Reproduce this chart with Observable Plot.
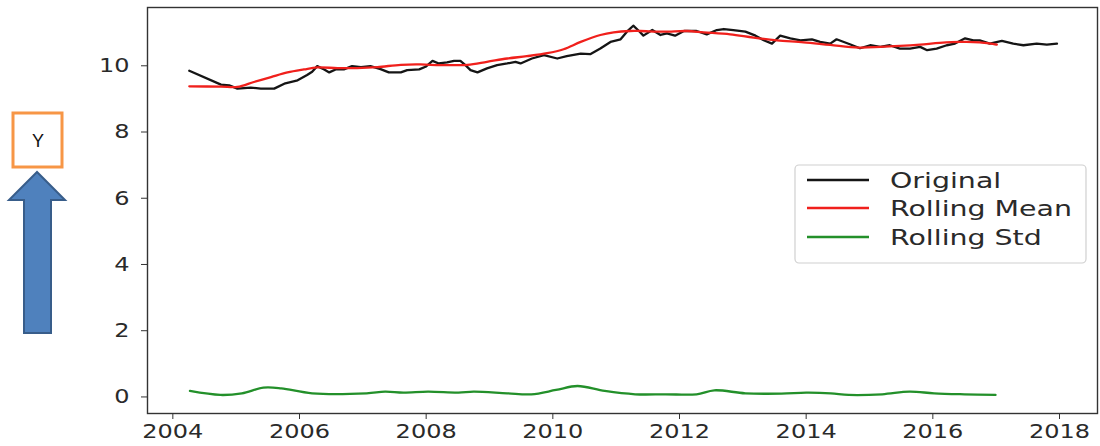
<!DOCTYPE html>
<html>
<head>
<meta charset="utf-8">
<script src="https://cdn.jsdelivr.net/npm/d3@7"></script>
<script src="https://cdn.jsdelivr.net/npm/@observablehq/plot@0.6"></script>
<style>
  html, body { margin: 0; padding: 0; background: #fff; }
  #wrap { position: relative; width: 1100px; height: 446px; }
  #overlay { position: absolute; left: 0; top: 0; pointer-events: none; }
</style>
</head>
<body>
<div id="wrap"></div>
<script>
// ---- data ----
const originalX = [2004.26,2004.76,2004.89,2005.02,2005.23,2005.39,2005.60,2005.76,2005.97,2006.12,2006.20,2006.28,2006.39,2006.47,2006.57,2006.70,2006.83,2006.97,2007.12,2007.28,2007.41,2007.60,2007.70,2007.89,2007.99,2008.10,2008.20,2008.33,2008.44,2008.54,2008.62,2008.70,2008.81,2008.96,2009.12,2009.28,2009.41,2009.49,2009.67,2009.86,2010.07,2010.22,2010.44,2010.59,2010.75,2010.91,2011.07,2011.17,2011.27,2011.36,2011.43,2011.57,2011.70,2011.80,2011.93,2012.07,2012.27,2012.43,2012.59,2012.70,2012.85,2013.04,2013.20,2013.33,2013.46,2013.59,2013.75,2013.91,2014.09,2014.22,2014.38,2014.48,2014.69,2014.85,2015.01,2015.17,2015.32,2015.48,2015.64,2015.80,2015.91,2016.06,2016.22,2016.35,2016.51,2016.64,2016.74,2016.90,2017.09,2017.27,2017.43,2017.64,2017.80,2017.96];
const originalY = [9.85,9.43,9.41,9.31,9.34,9.31,9.31,9.46,9.56,9.72,9.82,9.99,9.89,9.80,9.89,9.89,9.99,9.96,9.99,9.90,9.80,9.80,9.87,9.89,9.97,10.15,10.07,10.10,10.15,10.15,10.02,9.87,9.80,9.92,10.02,10.07,10.12,10.07,10.22,10.32,10.22,10.29,10.37,10.35,10.52,10.72,10.80,11.03,11.21,11.05,10.91,11.08,10.93,10.98,10.91,11.05,11.05,10.95,11.08,11.11,11.08,11.03,10.91,10.77,10.67,10.91,10.83,10.77,10.80,10.72,10.67,10.80,10.65,10.53,10.62,10.57,10.62,10.52,10.52,10.57,10.47,10.52,10.62,10.67,10.83,10.77,10.77,10.67,10.75,10.67,10.62,10.67,10.64,10.67];

const meanX = [2004.26,2004.76,2005.02,2005.28,2005.55,2005.81,2006.07,2006.28,2006.60,2006.91,2007.23,2007.60,2007.91,2008.23,2008.65,2008.96,2009.28,2009.59,2009.91,2010.17,2010.44,2010.75,2010.96,2011.22,2011.38,2011.75,2012.12,2012.38,2012.80,2013.17,2013.54,2013.96,2014.38,2014.83,2015.17,2015.48,2015.80,2016.11,2016.43,2016.74,2017.01];
const meanY = [9.38,9.37,9.36,9.51,9.66,9.80,9.89,9.95,9.93,9.93,9.96,10.03,10.04,10.02,10.03,10.12,10.22,10.29,10.38,10.50,10.72,10.93,11.01,11.05,11.05,11.03,11.05,11.01,10.95,10.85,10.77,10.71,10.63,10.55,10.57,10.60,10.64,10.69,10.72,10.71,10.64];

const stdX = [2004.27,2004.75,2005.09,2005.43,2005.71,2006.20,2007.06,2007.35,2007.64,2008.03,2008.51,2008.75,2009.28,2009.66,2010.05,2010.39,2010.82,2011.30,2011.78,2012.27,2012.55,2013.04,2013.61,2014.00,2014.39,2014.67,2015.20,2015.63,2016.02,2016.50,2016.99];
const stdY = [0.18,0.06,0.11,0.28,0.26,0.11,0.11,0.16,0.13,0.16,0.13,0.16,0.11,0.08,0.21,0.33,0.18,0.08,0.08,0.08,0.20,0.11,0.10,0.13,0.11,0.06,0.08,0.16,0.11,0.08,0.06];

const xTicks = [2004,2006,2008,2010,2012,2014,2016,2018];
const yTicks = [0,2,4,6,8,10];
const seriesNames = ["Original","Rolling Mean","Rolling Std"];
const seriesColors = ["#151515","#f0201c","#23902a"];
const yBoxLabel = "Y";

// ---- chart ----
const toRows = (xs, ys) => xs.map((x, i) => ({x, y: ys[i]}));

const chart = Plot.plot({
  width: 1100,
  height: 446,
  marginLeft: 147,
  marginRight: 3,
  marginTop: 7,
  marginBottom: 33,
  style: {fontFamily: "DejaVu Sans", fontSize: "20px", color: "#2a2a2a", background: "#fff"},
  x: {domain: [2003.6, 2018.6]},
  y: {domain: [-0.5, 11.76]},
  marks: [
    Plot.line(toRows(originalX, originalY), {x: "x", y: "y", stroke: seriesColors[0], strokeWidth: 2.3}),
    Plot.line(toRows(meanX, meanY), {x: "x", y: "y", stroke: seriesColors[1], strokeWidth: 2.3, curve: "catmull-rom"}),
    Plot.line(toRows(stdX, stdY), {x: "x", y: "y", stroke: seriesColors[2], strokeWidth: 2.3, curve: "catmull-rom"}),
    Plot.frame({stroke: "#333", strokeWidth: 1.4}),
    Plot.axisX({ticks: xTicks, tickFormat: d => String(d), tickSize: 6, tickPadding: 4, label: null, stroke: "#333"}),
    Plot.axisY({ticks: yTicks, tickFormat: d => String(d), tickSize: 6, tickPadding: 12, label: null, stroke: "#333"})
  ]
});

const wrap = document.getElementById("wrap");
wrap.appendChild(chart);

// widen tick labels slightly to match reference glyph proportions
chart.querySelectorAll("text").forEach(t => {
  const w = t.getComputedTextLength();
  if (w > 0) {
    t.setAttribute("textLength", (w * 1.2).toFixed(1));
    t.setAttribute("lengthAdjust", "spacingAndGlyphs");
  }
});

// ---- overlay: Y box, arrow, legend ----
const ov = d3.select(wrap).append("svg")
  .attr("id", "overlay").attr("width", 1100).attr("height", 446);

// arrow
ov.append("polygon")
  .attr("points", "37,172 9,200 24,200 24,333 51,333 51,200 65,200")
  .attr("fill", "#4f81bd").attr("stroke", "#385d8a").attr("stroke-width", 2);

// Y box
ov.append("rect").attr("x", 13).attr("y", 113).attr("width", 49).attr("height", 54)
  .attr("fill", "#fff").attr("stroke", "#f79646").attr("stroke-width", 3);
ov.append("text").attr("x", 38).attr("y", 147).attr("text-anchor", "middle")
  .attr("font-family", "Liberation Sans, Arial, sans-serif").attr("font-size", 18)
  .attr("fill", "#111").text(yBoxLabel);

// legend
const lg = ov.append("g");
lg.append("rect").attr("x", 795).attr("y", 165).attr("width", 291).attr("height", 98)
  .attr("rx", 4).attr("fill", "#fff").attr("fill-opacity", 0.9)
  .attr("stroke", "#d0d0d0").attr("stroke-width", 1.2);
const rowY = [180, 208, 237];
const texts = seriesNames.map((name, i) => {
  lg.append("line").attr("x1", 807).attr("x2", 869).attr("y1", rowY[i]).attr("y2", rowY[i])
    .attr("stroke", seriesColors[i]).attr("stroke-width", 2.3);
  return lg.append("text").attr("x", 890).attr("y", rowY[i] + 7.5)
    .attr("font-family", "DejaVu Sans").attr("font-size", 21).attr("fill", "#2a2a2a").text(name);
});
const factor = 182 / texts[1].node().getComputedTextLength();
texts.forEach(t => {
  const w = t.node().getComputedTextLength();
  t.attr("textLength", (w * factor).toFixed(1)).attr("lengthAdjust", "spacingAndGlyphs");
});
</script>
</body>
</html>
